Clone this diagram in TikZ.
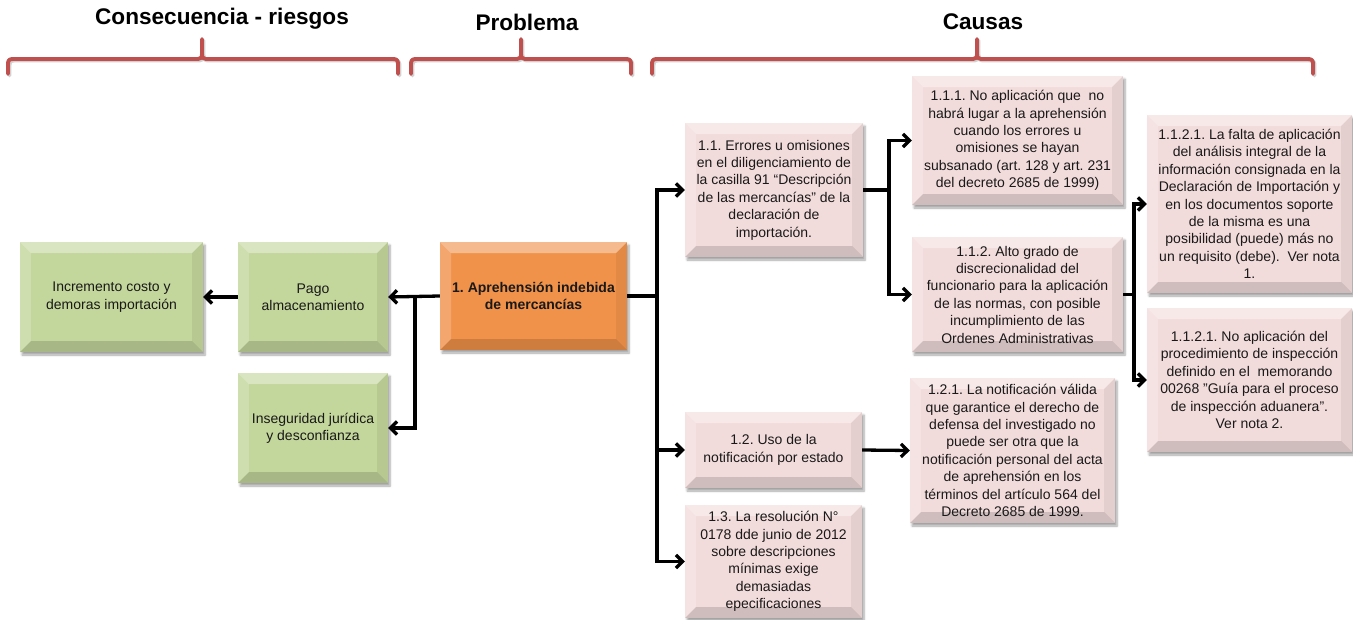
\documentclass[tikz,border=0pt]{standalone}
\usepackage{fontspec}
\setmainfont{Liberation Sans}
\usetikzlibrary{arrows.meta,shadows.blur}
\frenchspacing

\definecolor{pinkface}{HTML}{F2DCDB}
\definecolor{greenface}{HTML}{C3D69B}
\definecolor{orangeface}{HTML}{F0924A}
\definecolor{bracered}{HTML}{C0504D}

% horizontal curly brace: left end, tip, right end (x coordinates)
\newcommand\hbrace[3]{%
  \foreach \dx in {1.5,0} {%
    \ifdim\dx pt>0pt \def\bcol{black!18}\else\def\bcol{bracered}\fi
    \begin{scope}[shift={(\dx,\dx)}]
      \draw[bracestroke,draw=\bcol] (#1,74) -- (#1,64) .. controls (#1,60.5) and (#1+1,59) .. (#1+5,59)
        -- (#2-4,59) .. controls (#2-1,59) and (#2,57.5) .. (#2,54) -- (#2,39);
      \draw[bracestroke,draw=\bcol] (#3,74) -- (#3,64) .. controls (#3,60.5) and (#3-1,59) .. (#3-5,59)
        -- (#2+4,59) .. controls (#2+1,59) and (#2,57.5) .. (#2,54);
    \end{scope}}}

\begin{document}
\begin{tikzpicture}[x=1pt,y=-1pt,
  bracestroke/.style={line width=3.9pt,line cap=round,line join=round},
  bevel/.style={path picture={
    \path (path picture bounding box.north west) coordinate (bnw)
          (path picture bounding box.north east) coordinate (bne)
          (path picture bounding box.south west) coordinate (bsw)
          (path picture bounding box.south east) coordinate (bse);
    \fill[white,opacity=.38] (bnw) -- (bne) -- ([shift={(-11pt,-11pt)}]bne) -- ([shift={(11pt,-11pt)}]bnw) -- cycle;
    \fill[white,opacity=.2] (bnw) -- ([shift={(11pt,-11pt)}]bnw) -- ([shift={(11pt,11pt)}]bsw) -- (bsw) -- cycle;
    \fill[black,opacity=.06] (bne) -- (bse) -- ([shift={(-11pt,11pt)}]bse) -- ([shift={(-11pt,-11pt)}]bne) -- cycle;
    \fill[black,opacity=.14] (bsw) -- (bse) -- ([shift={(-11pt,11pt)}]bse) -- ([shift={(11pt,11pt)}]bsw) -- cycle;
  }},
  box/.style={draw=none,inner sep=2pt,align=center,bevel,
    font=\fontsize{14}{17.4}\selectfont,text=black!90,
    blur shadow={shadow xshift=2pt,shadow yshift=-3pt,shadow blur steps=6,shadow opacity=35}},
  effect/.style={box,fill=greenface},
  cause/.style={box,fill=pinkface},
  problem/.style={box,fill=orangeface,font=\fontsize{14}{17.4}\selectfont\bfseries},
  header/.style={font=\fontsize{22.6}{26}\selectfont\bfseries},
  conn/.style={line width=3.3pt,-{Straight Barb[length=6.5pt,width=13pt]}},
  trunk/.style={line width=3.3pt}]

\useasboundingbox (0,0) rectangle (1353,619);

% column headings and their braces
\node[header] (hcons) at (222,19) {Consecuencia - riesgos};
\node[header] (hprob) at (527,22) {Problema};
\node[header] (hcaus) at (983,22) {Causas};
\hbrace{8}{202}{398}
\hbrace{411}{521}{631}
\hbrace{652}{977}{1313}

% consequences
\node[effect,minimum width=183pt,minimum height=110pt] (inc) at (111.5,297) {Incremento costo y\\demoras importación};
\node[effect,minimum width=150pt,minimum height=110pt] (pago) at (313,297) {Pago\\almacenamiento};
\node[effect,minimum width=150pt,minimum height=110pt] (inseg) at (313,428) {Inseguridad jurídica\\y desconfianza};

% problem
\node[problem,minimum width=187pt,minimum height=108pt] (prob) at (533.5,296) {1. Aprehensión indebida\\de mercancías};

% causes
\node[cause,minimum width=178pt,minimum height=134pt] (c11) at (774,190)
  {1.1. Errores u omisiones\\en el diligenciamiento de\\la casilla 91 “Descripción\\de las mercancías” de la\\declaración de\\importación.};
\node[cause,minimum width=211pt,minimum height=129pt] (c111) at (1017.5,140.5)
  {1.1.1. No aplicación que~ no\\habrá lugar a la aprehensión\\cuando los errores u\\omisiones se hayan\\subsanado (art. 128 y art. 231\\del decreto 2685 de 1999)};
\node[cause,minimum width=211pt,minimum height=115pt] (c112) at (1017.5,294.5)
  {1.1.2. Alto grado de\\discrecionalidad del\\funcionario para la aplicación\\de las normas, con posible\\incumplimiento de las\\Ordenes Administrativas};
\node[cause,minimum width=205pt,minimum height=178pt] (c1121) at (1249.5,204)
  {1.1.2.1. La falta de aplicación\\del análisis integral de la\\información consignada en la\\Declaración de Importación y\\en los documentos soporte\\de la misma es una\\posibilidad (puede) más no\\un requisito (debe).~ Ver nota\\1.};
\node[cause,minimum width=205pt,minimum height=144pt] (c1122) at (1249.5,380)
  {1.1.2.1. No aplicación del\\procedimiento de inspección\\definido en el~ memorando\\00268 "Guía para el proceso\\de inspección aduanera".\\Ver nota 2.};
\node[cause,minimum width=177pt,minimum height=76pt] (c12) at (773.5,450)
  {1.2. Uso de la\\notificación por estado};
\node[cause,minimum width=177pt,minimum height=113pt] (c13) at (773.5,561.5)
  {1.3. La resolución N°\\0178 dde junio de 2012\\sobre descripciones\\mínimas exige\\demasiadas\\epecificaciones};
\node[cause,minimum width=205pt,minimum height=145pt] (c121) at (1012.5,450.5)
  {1.2.1. La notificación válida\\que garantice el derecho de\\defensa del investigado no\\puede ser otra que la\\notificación personal del acta\\de aprehensión en los\\términos del artículo 564 del\\Decreto 2685 de 1999.};

% junctions of the branching connectors
\coordinate (jl) at (415,297);
\coordinate (jr) at (657,296);
\coordinate (j11) at (889,190);
\coordinate (j112) at (1134,294.5);

% left side
\draw[conn] (prob.west) -- (pago.east);
\draw[conn] (jl) |- (inseg.east);
\draw[conn] (pago.west) -- (inc.east);

% right side
\draw[trunk] (prob.east) -- (jr);
\draw[conn] (jr) |- (c11.west);
\draw[conn] (jr) |- (c12.west);
\draw[conn] (jr) |- (c13.west);
\draw[trunk] (c11.east) -- (j11);
\draw[conn] (j11) |- (c111.west);
\draw[conn] (j11) |- (c112.west);
\draw[trunk] (c112.east) -- (j112);
\draw[conn] (j112) |- (c1121.west);
\draw[conn] (j112) |- (c1122.west);
\draw[conn] (c12.east) -- (c121.west);

\end{tikzpicture}
\end{document}
